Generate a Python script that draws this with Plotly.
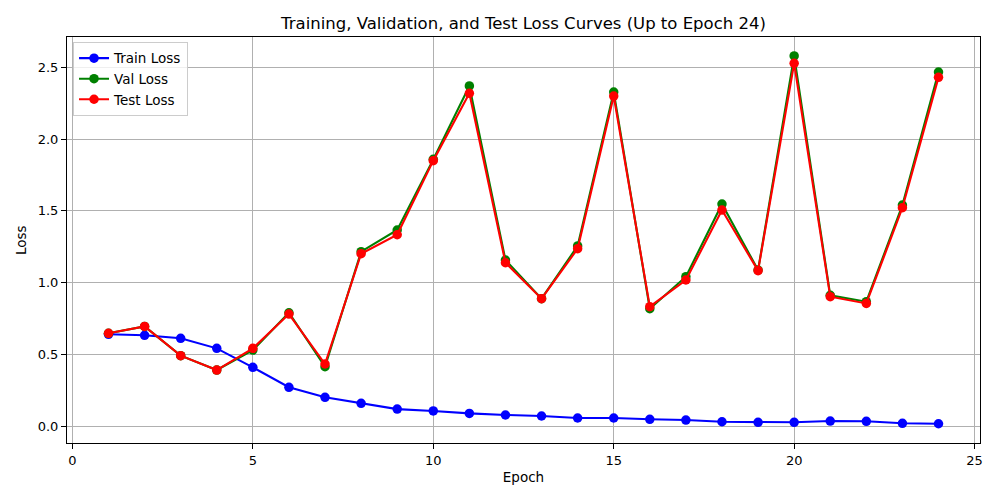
import plotly.graph_objects as go

epochs = list(range(1, 25))
train_loss = [0.641, 0.634, 0.613, 0.543, 0.411, 0.272, 0.202, 0.160, 0.120, 0.107,
              0.090, 0.079, 0.072, 0.058, 0.058, 0.049, 0.044, 0.032, 0.028, 0.028,
              0.037, 0.035, 0.021, 0.018]
val_loss = [0.648, 0.696, 0.492, 0.392, 0.531, 0.791, 0.415, 1.216, 1.367, 1.859,
            2.370, 1.158, 0.889, 1.256, 2.328, 0.819, 1.042, 1.548, 1.088, 2.579,
            0.912, 0.868, 1.541, 2.467]
test_loss = [0.648, 0.696, 0.492, 0.392, 0.543, 0.782, 0.434, 1.202, 1.334, 1.850,
             2.319, 1.139, 0.889, 1.237, 2.300, 0.833, 1.019, 1.506, 1.084, 2.528,
             0.903, 0.856, 1.522, 2.430]

series = [("Train Loss", train_loss, "blue"),
          ("Val Loss", val_loss, "green"),
          ("Test Loss", test_loss, "red")]

fig = go.Figure()
for name, vals, color in series:
    fig.add_trace(go.Scatter(
        x=epochs, y=vals, name=name, mode="lines+markers",
        line=dict(color=color, width=2.1),
        marker=dict(color=color, size=9.5),
    ))

font_family = "DejaVu Sans"
axis_common = dict(
    showgrid=True, gridcolor="#b0b0b0", gridwidth=1,
    showline=True, mirror=True, linecolor="black", linewidth=1,
    ticks="outside", ticklen=5, tickcolor="black", tickwidth=1,
    zeroline=False, automargin=False,
    tickfont=dict(family=font_family, size=13, color="black"),
)

fig.update_layout(
    width=1000, height=500,
    margin=dict(l=59, r=28, t=29, b=65),
    paper_bgcolor="white", plot_bgcolor="white",
    font=dict(family=font_family, color="black"),
    title=dict(text="Training, Validation, and Test Loss Curves (Up to Epoch 24)",
               x=0.5155, xanchor="center", y=0.97, yanchor="middle",
               font=dict(family=font_family, size=16.5, color="black")),
    xaxis=dict(range=[-0.15, 25.15], tickvals=[0, 5, 10, 15, 20, 25],
               title=dict(text="Epoch", font=dict(family=font_family, size=13.5), standoff=5),
               **axis_common),
    yaxis=dict(range=[-0.116, 2.711], tickvals=[0, 0.5, 1.0, 1.5, 2.0, 2.5],
               tickformat=".1f",
               **axis_common),
    legend=dict(x=0.0066, y=0.988, xanchor="left", yanchor="top",
                bgcolor="rgba(255,255,255,0.8)", bordercolor="#cccccc", borderwidth=1,
                font=dict(family=font_family, size=13.5, color="black"),
                tracegroupgap=0, itemwidth=30),
    showlegend=True,
    annotations=[dict(text="Loss", x=0, xref="paper", xanchor="center", xshift=-46,
                      y=0.5, yref="paper", yanchor="middle", textangle=-90,
                      showarrow=False,
                      font=dict(family=font_family, size=13.5, color="black"))],
)

fig.write_html("out.html")
